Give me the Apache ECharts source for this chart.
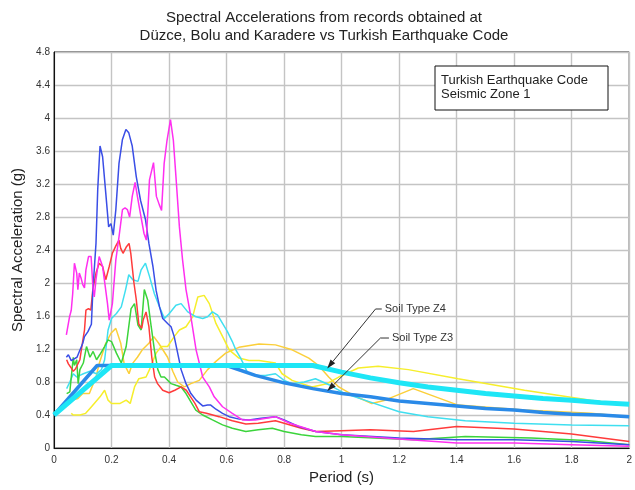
<!DOCTYPE html>
<html>
<head>
<meta charset="utf-8">
<title>Spectral Accelerations</title>
<script src="https://cdn.jsdelivr.net/npm/echarts@6/dist/echarts.min.js"></script>
<style>
  html, body { margin: 0; padding: 0; background: #fff; }
  #chart { width: 635px; height: 490px; }
</style>
</head>
<body>
<div id="chart"></div>
<script>
// axis ticks
var xTicks = [0, 0.2, 0.4, 0.6, 0.8, 1, 1.2, 1.4, 1.6, 1.8, 2]
var yTicks = [0, 0.4, 0.8, 1.2, 1.6, 2, 2.4, 2.8, 3.2, 3.6, 4, 4.4, 4.8]

var blueRecord = [[0.043,1.1],[0.05,1.13],[0.06,1.06],[0.07,1.08],[0.08,1.1],[0.1,1.27],[0.106,1.35],[0.118,1.41],[0.13,1.5],[0.135,1.9],[0.146,2.48],[0.152,3.13],[0.16,3.66],[0.169,3.53],[0.18,3.09],[0.19,2.68],[0.198,2.72],[0.206,2.58],[0.215,2.89],[0.226,3.45],[0.238,3.74],[0.25,3.86],[0.26,3.82],[0.272,3.66],[0.286,3.29],[0.301,3.0],[0.318,2.77],[0.33,2.48],[0.344,2.2],[0.355,1.91],[0.367,1.71],[0.378,1.57],[0.395,1.51],[0.407,1.47],[0.418,1.35],[0.43,1.15],[0.442,0.95],[0.459,0.78],[0.476,0.66],[0.494,0.58],[0.517,0.51],[0.534,0.52],[0.545,0.52],[0.563,0.47],[0.586,0.42],[0.609,0.38],[0.644,0.35],[0.678,0.34],[0.72,0.36],[0.77,0.38],[0.8,0.34],[0.85,0.26],[0.91,0.2],[1.0,0.16],[1.2,0.12],[1.4,0.1],[1.6,0.1],[1.8,0.08],[2.0,0.04]]
var redRecord = [[0.044,1.07],[0.05,1.02],[0.06,0.97],[0.067,0.93],[0.075,0.96],[0.09,1.07],[0.1,1.3],[0.106,1.43],[0.111,1.67],[0.12,1.69],[0.128,1.67],[0.135,1.92],[0.146,2.12],[0.157,2.24],[0.169,2.2],[0.18,2.04],[0.192,2.2],[0.203,2.36],[0.215,2.45],[0.226,2.52],[0.232,2.42],[0.24,2.36],[0.252,2.44],[0.261,2.48],[0.267,2.36],[0.278,2.0],[0.286,1.8],[0.295,1.5],[0.305,1.45],[0.31,1.55],[0.32,1.65],[0.33,1.47],[0.34,1.1],[0.35,0.86],[0.36,0.78],[0.378,0.7],[0.4,0.67],[0.42,0.7],[0.442,0.74],[0.46,0.7],[0.475,0.62],[0.49,0.54],[0.505,0.44],[0.53,0.42],[0.574,0.38],[0.62,0.33],[0.667,0.29],[0.71,0.3],[0.77,0.33],[0.8,0.3],[0.86,0.24],[0.91,0.2],[1.0,0.21],[1.1,0.22],[1.25,0.2],[1.4,0.26],[1.6,0.23],[1.8,0.17],[2.0,0.08]]
var magentaRecord = [[0.043,1.37],[0.054,1.59],[0.06,1.67],[0.065,1.87],[0.071,2.24],[0.079,2.12],[0.083,1.92],[0.088,2.12],[0.094,2.06],[0.1,1.98],[0.106,1.94],[0.111,2.16],[0.12,2.32],[0.129,2.32],[0.135,1.96],[0.14,1.83],[0.146,2.04],[0.157,2.32],[0.169,2.2],[0.175,2.04],[0.186,1.75],[0.192,1.55],[0.203,1.75],[0.215,2.28],[0.226,2.56],[0.238,2.89],[0.247,2.91],[0.255,2.89],[0.263,2.8],[0.272,3.05],[0.282,3.22],[0.29,3.05],[0.3,2.85],[0.313,2.6],[0.321,2.52],[0.332,3.25],[0.346,3.46],[0.356,3.05],[0.366,2.95],[0.374,2.88],[0.383,3.45],[0.393,3.73],[0.405,3.98],[0.415,3.73],[0.424,3.29],[0.436,2.68],[0.447,2.28],[0.459,1.92],[0.476,1.59],[0.494,1.19],[0.517,0.86],[0.54,0.74],[0.557,0.62],[0.586,0.5],[0.62,0.42],[0.655,0.34],[0.7,0.34],[0.77,0.38],[0.82,0.3],[0.91,0.2],[1.0,0.16],[1.2,0.11],[1.4,0.06],[1.6,0.06],[1.8,0.04],[2.0,0.02]]
var cyanRecord = [[0.044,0.72],[0.055,0.8],[0.067,0.9],[0.079,0.86],[0.09,0.88],[0.102,0.9],[0.125,0.93],[0.148,0.9],[0.165,0.95],[0.176,1.07],[0.188,1.43],[0.2,1.57],[0.217,1.63],[0.234,1.71],[0.249,1.92],[0.26,2.1],[0.274,2.04],[0.292,2.02],[0.303,2.16],[0.318,2.24],[0.332,2.08],[0.349,1.87],[0.367,1.71],[0.384,1.57],[0.401,1.63],[0.424,1.73],[0.442,1.75],[0.465,1.65],[0.494,1.59],[0.517,1.57],[0.534,1.59],[0.551,1.65],[0.569,1.61],[0.586,1.51],[0.603,1.41],[0.62,1.29],[0.632,1.19],[0.649,1.09],[0.672,0.92],[0.701,0.88],[0.735,0.88],[0.77,0.9],[0.8,0.82],[0.828,0.78],[0.87,0.8],[0.909,0.84],[0.96,0.76],[1.012,0.66],[1.08,0.58],[1.2,0.44],[1.3,0.38],[1.43,0.33],[1.6,0.3],[1.8,0.28],[2.0,0.27]]
var greenRecord = [[0.044,0.66],[0.055,0.68],[0.067,1.1],[0.071,1.0],[0.079,1.07],[0.084,0.78],[0.09,0.95],[0.102,1.03],[0.113,1.23],[0.125,1.1],[0.136,1.17],[0.148,1.07],[0.159,1.13],[0.176,1.23],[0.188,1.31],[0.2,1.29],[0.217,1.15],[0.234,1.03],[0.251,1.23],[0.268,1.69],[0.28,1.75],[0.292,1.49],[0.303,1.43],[0.314,1.92],[0.326,1.79],[0.338,1.47],[0.349,1.19],[0.361,0.95],[0.372,0.86],[0.384,0.86],[0.407,0.78],[0.424,0.76],[0.442,0.74],[0.459,0.66],[0.476,0.56],[0.493,0.46],[0.517,0.4],[0.551,0.34],[0.586,0.28],[0.62,0.24],[0.667,0.2],[0.71,0.22],[0.759,0.24],[0.8,0.2],[0.86,0.16],[0.909,0.14],[1.0,0.14],[1.25,0.1],[1.43,0.14],[1.66,0.12],[1.85,0.09],[2.0,0.04]]
var yellowRecord = [[0.06,0.42],[0.067,0.4],[0.09,0.4],[0.11,0.42],[0.125,0.48],[0.14,0.54],[0.16,0.62],[0.176,0.7],[0.188,0.58],[0.2,0.54],[0.23,0.54],[0.251,0.58],[0.265,0.54],[0.28,0.74],[0.295,0.84],[0.32,0.86],[0.332,0.95],[0.355,1.15],[0.373,1.23],[0.395,1.23],[0.418,1.35],[0.436,1.43],[0.459,1.47],[0.482,1.59],[0.5,1.83],[0.522,1.85],[0.54,1.75],[0.563,1.51],[0.592,1.31],[0.609,1.19],[0.643,1.09],[0.678,1.06],[0.713,1.06],[0.77,1.03],[0.793,0.9],[0.828,0.82],[0.897,0.74],[0.949,0.78],[0.99,0.86],[1.058,0.97],[1.127,0.99],[1.232,0.95],[1.405,0.84],[1.636,0.7],[1.866,0.58],[2.0,0.52]]
var goldRecord = [[0.06,0.58],[0.083,0.6],[0.1,0.66],[0.123,0.66],[0.146,0.86],[0.157,1.02],[0.18,1.27],[0.198,1.39],[0.215,1.45],[0.232,1.27],[0.244,1.02],[0.261,0.9],[0.272,1.02],[0.29,1.1],[0.307,1.19],[0.33,1.27],[0.347,1.35],[0.364,1.27],[0.395,1.1],[0.413,0.93],[0.43,0.8],[0.453,0.74],[0.476,0.78],[0.505,0.82],[0.534,0.95],[0.563,1.05],[0.597,1.15],[0.643,1.22],[0.713,1.26],[0.77,1.25],[0.828,1.19],[0.886,1.09],[0.92,1.0],[0.955,0.86],[0.99,0.74],[1.04,0.64],[1.105,0.54],[1.151,0.58],[1.249,0.72],[1.405,0.52],[1.636,0.46],[1.866,0.42],[2.0,0.38]]

// code design spectra, seismic zone 1
var soilZ3 = [[0,0.4],[0.15,1.0],[0.6,1.0],[0.7,0.88],[0.8,0.79],[0.9,0.72],[1.0,0.66],[1.1,0.62],[1.2,0.57],[1.3,0.54],[1.4,0.51],[1.5,0.48],[1.6,0.46],[1.7,0.43],[1.8,0.41],[1.9,0.4],[2.0,0.38]]
var soilZ4 = [[0,0.4],[0.2,1.0],[0.9,1.0],[1.0,0.92],[1.1,0.85],[1.2,0.79],[1.3,0.74],[1.4,0.7],[1.5,0.66],[1.6,0.63],[1.7,0.6],[1.8,0.58],[1.9,0.55],[2.0,0.53]]

// annotation arrows: label anchor, elbow, tip (data coords)
var z4Note = { text: 'Soil Type Z4', label: [1.15, 1.685], elbow: [1.118, 1.685], tip: [0.95, 0.965] }
var z3Note = { text: 'Soil Type Z3', label: [1.175, 1.333], elbow: [1.135, 1.333], tip: [0.95, 0.69] }

var font = 'Liberation Sans, Arial, sans-serif'
var chart = echarts.init(document.getElementById('chart'))

function rec (data, color) {
  return {
    type: 'line',
    data: data,
    showSymbol: false,
    silent: true,
    lineStyle: { color: color, width: 1.5 },
    z: 2
  }
}

chart.setOption({
  animation: false,
  backgroundColor: '#fff',
  title: {
    text: 'Spectral Accelerations from records obtained at\nDüzce, Bolu and Karadere vs Turkish Earthquake Code',
    left: 324,
    top: 9,
    padding: 0,
    textAlign: 'center',
    textStyle: { fontFamily: font, fontSize: 15, fontWeight: 'normal', color: '#222', lineHeight: 18 }
  },
  grid: { left: 54, right: 3, top: 52, bottom: 42, show: true, borderColor: '#111', borderWidth: 1 },
  xAxis: {
    type: 'value',
    min: xTicks[0],
    max: xTicks[xTicks.length - 1],
    interval: xTicks[1] - xTicks[0],
    name: 'Period (s)',
    nameLocation: 'middle',
    nameGap: 22,
    nameTextStyle: { fontFamily: font, fontSize: 15, color: '#222' },
    axisLine: { lineStyle: { color: '#111', width: 1 } },
    axisTick: { show: false },
    axisLabel: { fontFamily: font, fontSize: 10, color: '#333', margin: 7 },
    splitLine: { lineStyle: { color: '#c4c4c4', width: 1.4 } }
  },
  yAxis: {
    type: 'value',
    min: yTicks[0],
    max: yTicks[yTicks.length - 1],
    interval: yTicks[1] - yTicks[0],
    name: 'Spectral Acceleration (g)',
    nameLocation: 'middle',
    nameGap: 24,
    nameTextStyle: { fontFamily: font, fontSize: 15, color: '#222' },
    axisLine: { show: true, lineStyle: { color: '#111', width: 1 } },
    axisTick: { show: false },
    axisLabel: { fontFamily: font, fontSize: 10, color: '#333', margin: 4 },
    splitLine: { lineStyle: { color: '#c4c4c4', width: 1.4 } }
  },
  series: [
    rec(goldRecord, '#fbcf3a'),
    rec(yellowRecord, '#f6ee2c'),
    rec(cyanRecord, '#3fdff0'),
    rec(greenRecord, '#3bd43b'),
    rec(redRecord, '#ff3b3b'),
    rec(blueRecord, '#3a4ee6'),
    rec(magentaRecord, '#ff2ff0'),
    { type: 'line', data: soilZ3, showSymbol: false, silent: true, lineStyle: { color: '#2a8ae8', width: 3.5 }, z: 3 },
    { type: 'line', data: soilZ4, showSymbol: false, silent: true, lineStyle: { color: '#1ee6f6', width: 5 }, z: 4 }
  ]
})

// annotation box + arrows placed through the chart's own coordinate system
function arrow (note) {
  var p0 = chart.convertToPixel({ gridIndex: 0 }, note.label)
  var p1 = chart.convertToPixel({ gridIndex: 0 }, note.elbow)
  var p2 = chart.convertToPixel({ gridIndex: 0 }, note.tip)
  var dx = p2[0] - p1[0], dy = p2[1] - p1[1]
  var len = Math.sqrt(dx * dx + dy * dy)
  var ux = dx / len, uy = dy / len
  var hl = 9, hw = 3
  var base = [p2[0] - ux * hl, p2[1] - uy * hl]
  return [
    { type: 'polyline', shape: { points: [[p0[0] - 3, p0[1]], p1, base] }, style: { stroke: '#333', lineWidth: 1, fill: null }, z: 10 },
    { type: 'polygon', shape: { points: [p2, [base[0] - uy * hw, base[1] + ux * hw], [base[0] + uy * hw, base[1] - ux * hw]] }, style: { fill: '#222' }, z: 10 },
    { type: 'text', x: p0[0], y: p0[1], style: { text: note.text, font: '11px ' + font, fill: '#333', verticalAlign: 'middle' }, z: 10 }
  ]
}

chart.setOption({
  graphic: [
    { type: 'rect', shape: { x: 435, y: 66, width: 173, height: 44 }, style: { fill: '#fff', stroke: '#111', lineWidth: 1 }, z: 10 },
    { type: 'text', x: 441, y: 74, style: { text: 'Turkish Earthquake Code\nSeismic Zone 1', font: '13px ' + font, fill: '#222', lineHeight: 13.5 }, z: 11 }
  ].concat(arrow(z4Note), arrow(z3Note))
})
</script>
</body>
</html>
